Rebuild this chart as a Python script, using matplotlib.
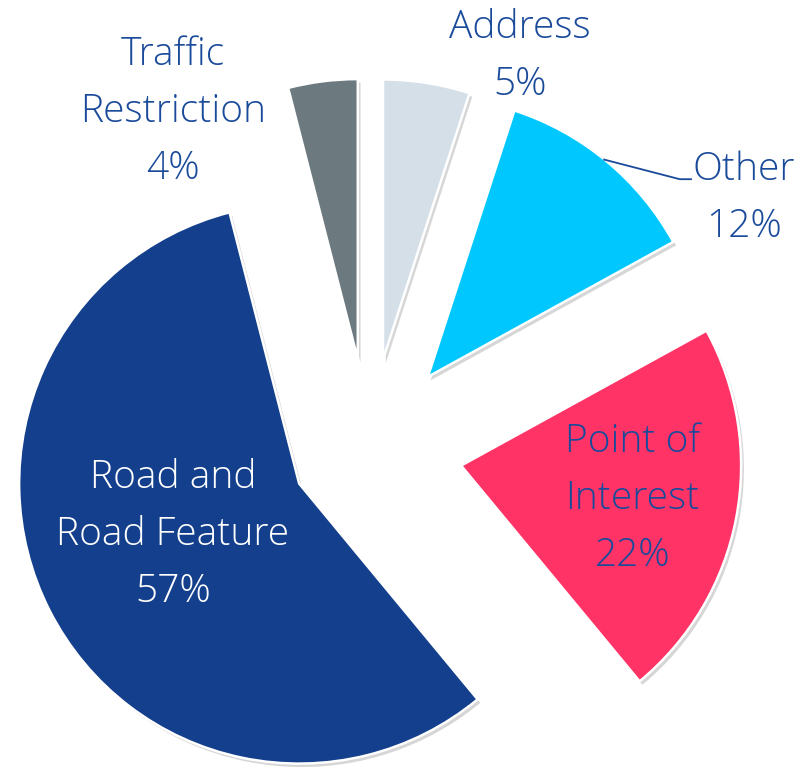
import matplotlib
matplotlib.use("Agg")
from matplotlib import pyplot as plt
from matplotlib import patheffects as pe

categories = ["Address", "Other", "Point of\nInterest", "Road and\nRoad Feature", "Traffic\nRestriction"]
shares = [5, 12, 22, 57, 4]
colors = ["#d5dfe8", "#00c8ff", "#ff3366", "#133f8c", "#6c7a80"]
explode = [0.32, 0.33, 0.335, 0.28, 0.32]

# label anchor points (data units, pie radius = 1)
label_pos = [(0.54, 1.40), (1.34, 0.893), (0.94, -0.18), (-0.70, -0.31), (-0.70, 1.20)]
label_colors = ["#1a4a9a", "#1a4a9a", "#1a4a9a", "white", "#1a4a9a"]

plt.rcParams['font.family'] = ['Open Sans', 'DejaVu Sans']

fig = plt.figure(figsize=(8.11, 7.73), dpi=100)
ax = fig.add_axes([0, 0, 1, 1])

wedges, _ = ax.pie(shares, colors=colors, explode=explode, startangle=90,
                   counterclock=False, radius=1,
                   wedgeprops=dict(edgecolor="white", linewidth=1.8))
for w in wedges:
    w.set_path_effects([pe.SimplePatchShadow(offset=(2, -2.5), shadow_rgbFace="black", alpha=0.16),
                        pe.Normal()])

for name, val, (x, y), c in zip(categories, shares, label_pos, label_colors):
    ax.text(x, y, f"{name}\n{val}%", ha="center", va="center", color=c,
            fontsize=28, fontweight="light", linespacing=1.63)

# leader line for "Other"
ax.plot([0.84, 1.11, 1.15], [1.03, 0.96, 0.96], color="#1a4a9a", lw=1.3)

ax.set_xlim(-369 / 280, (811 - 369) / 280)
ax.set_ylim(-(773 - 448) / 280, 448 / 280)
ax.set_aspect("equal")
ax.axis("off")

fig.savefig("out.png", dpi=100)
